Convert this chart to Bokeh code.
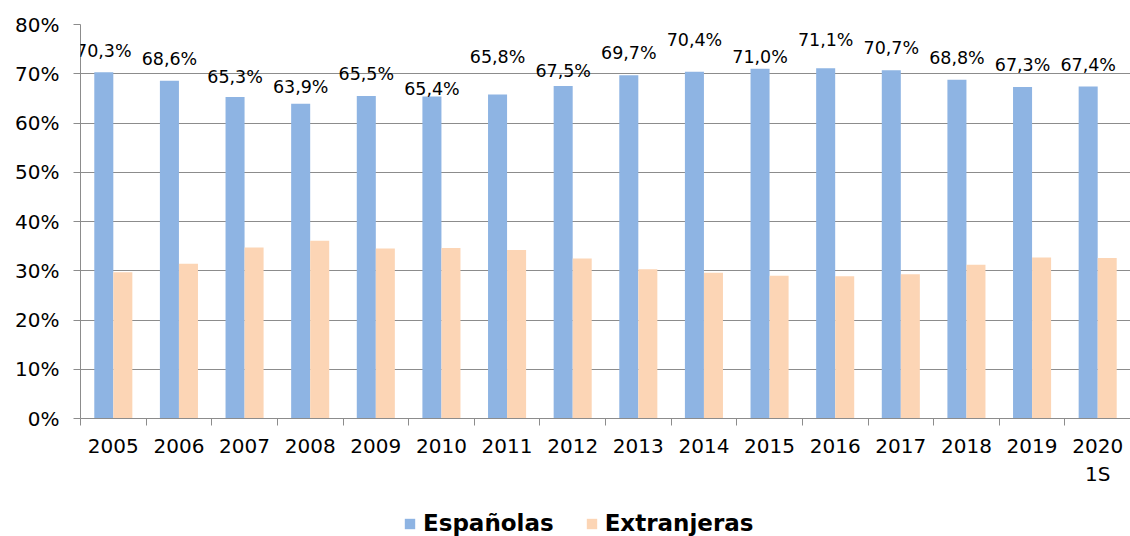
from bokeh.plotting import figure
from bokeh.layouts import column
from bokeh.models import (ColumnDataSource, Range1d, LinearAxis,
                          FixedTicker, LabelSet, Legend, LegendItem)
from bokeh.core.properties import value
from bokeh.transform import dodge
from bokeh.embed import file_html
from bokeh.resources import INLINE

categories = ["2005", "2006", "2007", "2008", "2009", "2010", "2011", "2012",
              "2013", "2014", "2015", "2016", "2017", "2018", "2019", "2020\n1S"]
espanolas = [70.3, 68.6, 65.3, 63.9, 65.5, 65.4, 65.8, 67.5,
             69.7, 70.4, 71.0, 71.1, 70.7, 68.8, 67.3, 67.4]
extranjeras = [29.7, 31.4, 34.7, 36.1, 34.5, 34.6, 34.2, 32.5,
               30.3, 29.6, 29.0, 28.9, 29.3, 31.2, 32.7, 32.6]
value_labels = ["70,3%", "68,6%", "65,3%", "63,9%", "65,5%", "65,4%", "65,8%", "67,5%",
                "69,7%", "70,4%", "71,0%", "71,1%", "70,7%", "68,8%", "67,3%", "67,4%"]
y_ticks = [0, 10, 20, 30, 40, 50, 60, 70, 80]
y_tick_labels = ["0%", "10%", "20%", "30%", "40%", "50%", "60%", "70%", "80%"]
series_names = ["Españolas", "Extranjeras"]

# label placement offsets (pixels above bar top), styling only
label_dy = [21, 22, 20, 17, 22, 7, 37, 15, 22, 32, 12, 28, 22, 22, 22, 22]

FONT = "DejaVu Sans"
BLUE = "#8EB4E3"
PEACH = "#FCD5B5"
GRID = "#8C8C8C"

n = len(categories)
centers = [i + 0.5 for i in range(n)]
src = ColumnDataSource(dict(xc=centers, esp=espanolas, ext=extranjeras,
                            lab=value_labels, dy=label_dy))

p = figure(x_range=Range1d(0, n), y_range=Range1d(0, 80),
           width=1130, height=490, output_backend="svg", toolbar_location=None,
           x_axis_location=None, y_axis_location="left",
           min_border_left=80, min_border_right=0, min_border_top=24, min_border_bottom=72)
p.outline_line_color = None
p.xgrid.grid_line_color = None
p.ygrid.grid_line_color = GRID
p.ygrid.ticker = FixedTicker(ticks=y_ticks)

r1 = p.vbar(x=dodge("xc", -0.145), top="esp", width=0.29, source=src,
            fill_color=BLUE, line_color=None)
r2 = p.vbar(x=dodge("xc", 0.145), top="ext", width=0.29, source=src,
            fill_color=PEACH, line_color=None)

labels = LabelSet(x=dodge("xc", -0.145), y="esp", text="lab", source=src,
                  y_offset="dy", text_align="center", text_baseline="middle",
                  text_font=value(FONT), text_font_size="17.5px", text_color="black")
p.add_layout(labels)

# y axis
ya = p.yaxis[0]
ya.ticker = FixedTicker(ticks=y_ticks)
ya.major_label_overrides = {t: s for t, s in zip(y_ticks, y_tick_labels)}
ya.axis_line_color = GRID
ya.major_tick_line_color = GRID
ya.major_tick_in = 0
ya.major_tick_out = 7
ya.minor_tick_line_color = None
ya.major_label_text_font = FONT
ya.major_label_text_font_size = "20px"
ya.major_label_text_color = "black"
ya.major_label_standoff = 14

# x axis: boundary ticks + category labels at centres
edge_axis = LinearAxis(ticker=FixedTicker(ticks=list(range(n + 1))),
                       axis_line_color=GRID, major_tick_line_color=GRID,
                       major_tick_in=0, major_tick_out=7, minor_tick_line_color=None,
                       major_label_overrides={i: "" for i in range(n + 1)},
                       major_label_text_font_size="1px", major_label_standoff=0)
p.add_layout(edge_axis, "below")
cat_axis = LinearAxis(ticker=FixedTicker(ticks=centers),
                      major_label_overrides={c: s for c, s in zip(centers, categories)},
                      axis_line_color=None, major_tick_line_color=None,
                      minor_tick_line_color=None, major_tick_in=0, major_tick_out=0,
                      major_label_text_font=FONT, major_label_text_font_size="20px",
                      major_label_text_color="black", major_label_standoff=8)
p.add_layout(cat_axis, "below")

# legend strip (swatch renderers have zero height, so only the legend shows them)
lg = figure(x_range=Range1d(0, 1), y_range=Range1d(0, 1), width=1130, height=46,
            output_backend="svg", toolbar_location=None,
            x_axis_location=None, y_axis_location=None, min_border=0)
lg.outline_line_color = None
lg.xgrid.visible = False
lg.ygrid.visible = False
e1 = lg.vbar(x=[0.5], top=[0], width=0.01, fill_color=BLUE, line_color=None)
e2 = lg.vbar(x=[0.5], top=[0], width=0.01, fill_color=PEACH, line_color=None)
legend = Legend(items=[LegendItem(label=series_names[0], renderers=[e1], index=0),
                       LegendItem(label=series_names[1], renderers=[e2], index=0)],
                orientation="horizontal", location=(323, 0),
                label_text_font=FONT, label_text_font_size="23px", label_text_font_style="bold",
                label_text_color="black", glyph_width=13, glyph_height=13,
                label_standoff=7, spacing=31, padding=0, margin=0,
                border_line_color=None, background_fill_alpha=0)
lg.add_layout(legend, "center")

layout = column(p, lg, spacing=0)
open("out.html", "w").write(file_html(layout, INLINE))
